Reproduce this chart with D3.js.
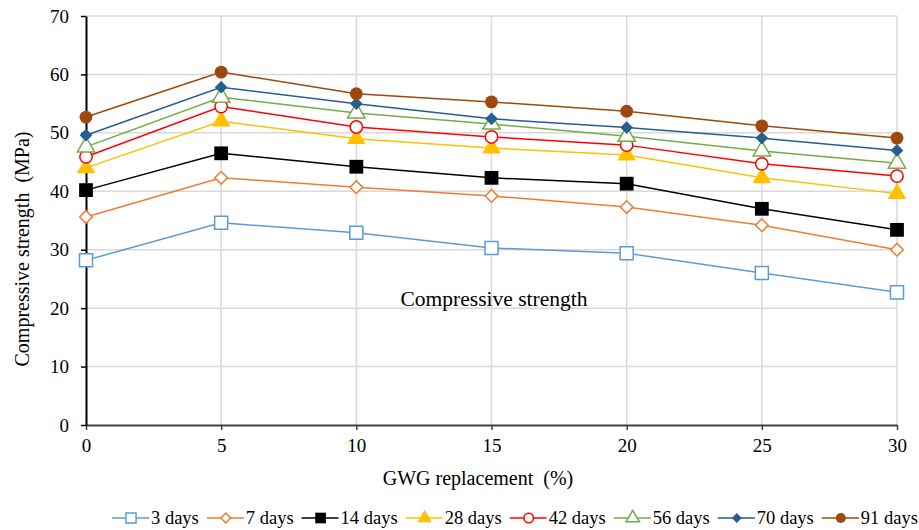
<!DOCTYPE html>
<html>
<head>
<meta charset="utf-8">
<script src="https://cdn.jsdelivr.net/npm/d3@7"></script>
<style>
  body { margin: 0; background: #fff; }
  text { font-family: "Liberation Serif", "Times New Roman", serif; fill: #000; white-space: pre; }
</style>
</head>
<body>
<div id="chart"></div>
<script>
// GWG replacement levels (%)
var replacement = [0, 5, 10, 15, 20, 25, 30];
var seriesNames = ["3 days", "7 days", "14 days", "28 days", "42 days", "56 days", "70 days", "91 days"];
// compressive strength (MPa) for each curing age
var days3  = [28.2, 34.6, 32.9, 30.3, 29.4, 26.0, 22.7];
var days7  = [35.6, 42.3, 40.7, 39.2, 37.3, 34.2, 30.0];
var days14 = [40.2, 46.5, 44.2, 42.3, 41.3, 37.0, 33.4];
var days28 = [44.0, 52.0, 49.0, 47.4, 46.2, 42.3, 39.6];
var days42 = [45.9, 54.5, 51.0, 49.3, 47.9, 44.7, 42.6];
var days56 = [47.6, 56.1, 53.4, 51.5, 49.4, 46.9, 44.8];
var days70 = [49.6, 57.8, 55.0, 52.4, 50.9, 49.1, 47.0];
var days91 = [52.7, 60.4, 56.7, 55.3, 53.7, 51.2, 49.1];
var yTicks = [0, 10, 20, 30, 40, 50, 60, 70];

var allValues = [days3, days7, days14, days28, days42, days56, days70, days91];
var colors = ["#5B9BD5", "#ED7D31", "#000000", "#FFC000", "#FF0000", "#70AD47", "#255E91", "#9E480E"];
// marker shape + filled or not (rot = square turned into a diamond)
var markers = [
  {type: d3.symbolSquare, size: 170, fill: false, rot: 0},
  {type: d3.symbolSquare, size: 80, fill: false, rot: 45},
  {type: d3.symbolSquare, size: 190, fill: true, rot: 0},
  {type: d3.symbolTriangle, size: 150, fill: true, rot: 0},
  {type: d3.symbolCircle, size: 120, fill: false, rot: 0},
  {type: d3.symbolTriangle, size: 130, fill: false, rot: 0},
  {type: d3.symbolSquare, size: 80, fill: true, rot: 45},
  {type: d3.symbolCircle, size: 130, fill: true, rot: 0}
];

var width = 919, height = 530;
var margin = {top: 16, right: 22, bottom: 105, left: 86};

var svg = d3.select("#chart").append("svg")
  .attr("width", width)
  .attr("height", height);

var x = d3.scaleLinear().domain([0, 30]).range([margin.left, width - margin.right]);
var y = d3.scaleLinear().domain([0, 70]).range([height - margin.bottom, margin.top]);

// gridlines
svg.append("g").selectAll("line.h")
  .data(yTicks.slice(1))
  .enter().append("line")
  .attr("x1", x(0)).attr("x2", x(30))
  .attr("y1", function(d) { return y(d); })
  .attr("y2", function(d) { return y(d); })
  .attr("stroke", "#d9d9d9").attr("stroke-width", 1.5);
svg.append("g").selectAll("line.v")
  .data(replacement.slice(1))
  .enter().append("line")
  .attr("y1", y(0)).attr("y2", y(70))
  .attr("x1", function(d) { return x(d); })
  .attr("x2", function(d) { return x(d); })
  .attr("stroke", "#d9d9d9").attr("stroke-width", 1.5);

// axes
var xAxis = svg.append("g")
  .attr("transform", "translate(0," + y(0) + ")")
  .call(d3.axisBottom(x).tickValues(replacement).tickSize(5).tickSizeOuter(0).tickPadding(9));
xAxis.select(".domain").attr("stroke", "#404040").attr("stroke-width", 2);
xAxis.selectAll(".tick line").attr("stroke", "#404040").attr("stroke-width", 1.5);
xAxis.selectAll("text").style("font-size", "19px").style("font-family", "Liberation Serif");

var yAxis = svg.append("g")
  .attr("transform", "translate(" + x(0) + ",0)")
  .call(d3.axisLeft(y).tickValues(yTicks).tickSize(5).tickSizeOuter(0).tickPadding(12));
yAxis.select(".domain").attr("stroke", "#000").attr("stroke-width", 2);
yAxis.selectAll(".tick line").attr("stroke", "#000").attr("stroke-width", 1.5);
yAxis.selectAll("text").style("font-size", "19px").style("font-family", "Liberation Serif");

// axis titles
svg.append("text")
  .attr("x", 478)
  .attr("y", 485)
  .style("text-anchor", "middle")
  .style("font-size", "20px")
  .text("GWG replacement  (%)");

svg.append("text")
  .attr("transform", "translate(29,249) rotate(-90)")
  .style("text-anchor", "middle")
  .style("font-size", "20px")
  .text("Compressive strength  (MPa)");

svg.append("text")
  .attr("x", 494)
  .attr("y", 306)
  .style("text-anchor", "middle")
  .style("font-size", "21.5px")
  .text("Compressive strength");

// lines + markers
var line = d3.line()
  .x(function(d, i) { return x(replacement[i]); })
  .y(function(d) { return y(d); });

allValues.forEach(function(vals, s) {
  svg.append("path")
    .datum(vals)
    .attr("fill", "none")
    .attr("stroke", colors[s])
    .attr("stroke-width", 1.5)
    .attr("d", line);
});

allValues.forEach(function(vals, s) {
  var m = markers[s];
  svg.append("g").selectAll("path")
    .data(vals)
    .enter().append("path")
    .attr("transform", function(d, i) {
      return "translate(" + x(replacement[i]) + "," + y(d) + ") rotate(" + m.rot + ")";
    })
    .attr("d", d3.symbol().type(m.type).size(m.size))
    .attr("fill", m.fill ? colors[s] : "#fff")
    .attr("stroke", colors[s])
    .attr("stroke-width", m.fill ? 0 : 1.5);
});

// legend
var legend = svg.append("g").attr("transform", "translate(0,518)");
var lx = 112;
seriesNames.forEach(function(name, s) {
  var m = markers[s];
  var g = legend.append("g").attr("transform", "translate(" + lx + ",0)");
  g.append("line")
    .attr("x1", 0).attr("x2", 37)
    .attr("y1", 0).attr("y2", 0)
    .attr("stroke", colors[s]).attr("stroke-width", 1.5);
  g.append("path")
    .attr("transform", "translate(19,0) rotate(" + m.rot + ")")
    .attr("d", d3.symbol().type(m.type).size(m.size * 0.6))
    .attr("fill", m.fill ? colors[s] : "#fff")
    .attr("stroke", colors[s])
    .attr("stroke-width", m.fill ? 0 : 1.5);
  var t = g.append("text")
    .attr("x", 39)
    .attr("y", 6)
    .style("font-size", "18.5px")
    .text(name);
  lx += 39 + t.node().getComputedTextLength() + 8;
});
</script>
</body>
</html>
